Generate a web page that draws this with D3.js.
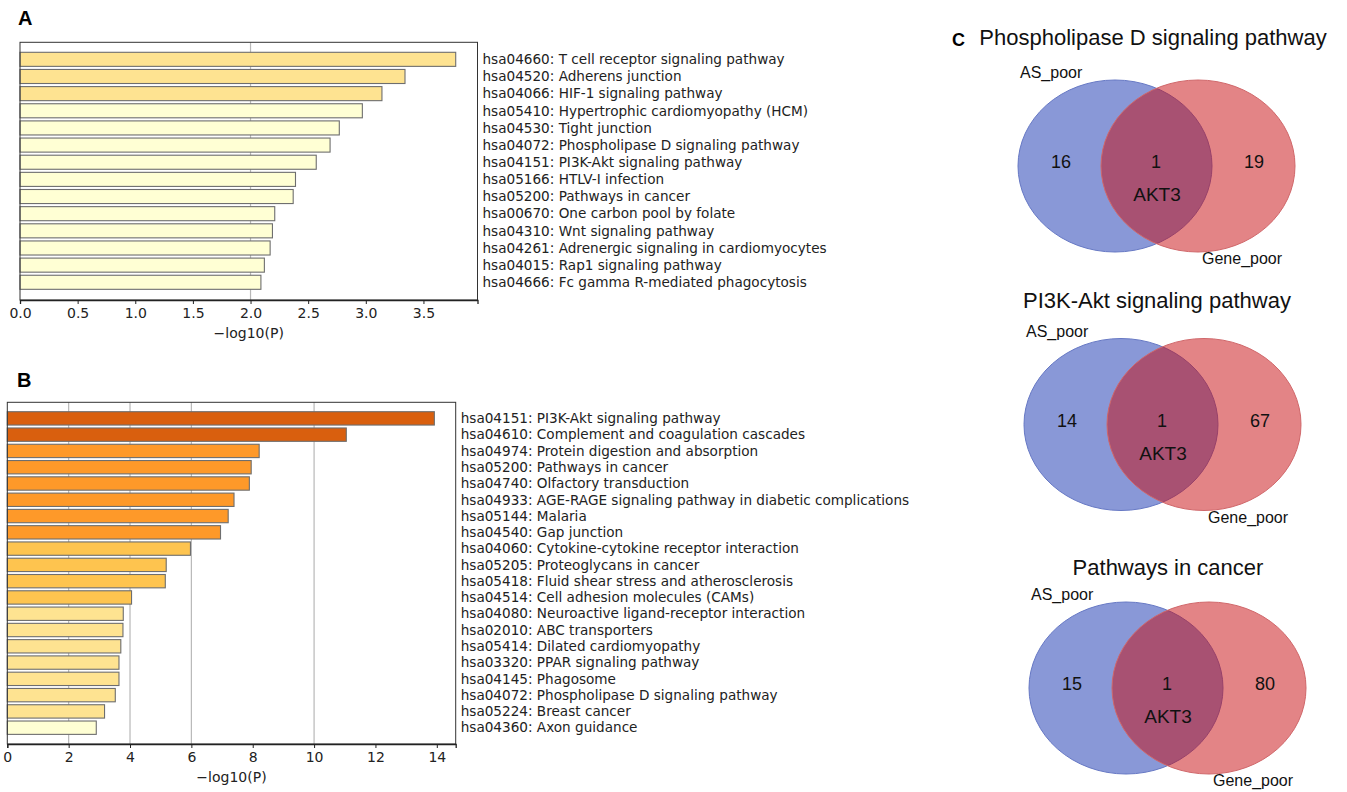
<!DOCTYPE html>
<html>
<head>
<meta charset="utf-8">
<script src="https://cdn.jsdelivr.net/npm/d3@7"></script>
<style>
  body { margin: 0; background: #fff; }
  svg { display: block; }
</style>
</head>
<body>
<svg id="fig"></svg>
<script>
// ---- data ----
const termsA = [
  "hsa04660: T cell receptor signaling pathway",
  "hsa04520: Adherens junction",
  "hsa04066: HIF-1 signaling pathway",
  "hsa05410: Hypertrophic cardiomyopathy (HCM)",
  "hsa04530: Tight junction",
  "hsa04072: Phospholipase D signaling pathway",
  "hsa04151: PI3K-Akt signaling pathway",
  "hsa05166: HTLV-I infection",
  "hsa05200: Pathways in cancer",
  "hsa00670: One carbon pool by folate",
  "hsa04310: Wnt signaling pathway",
  "hsa04261: Adrenergic signaling in cardiomyocytes",
  "hsa04015: Rap1 signaling pathway",
  "hsa04666: Fc gamma R-mediated phagocytosis"
];
const valuesA = [3.78, 3.34, 3.14, 2.97, 2.77, 2.69, 2.57, 2.39, 2.37, 2.21, 2.19, 2.17, 2.12, 2.09];
const ticksA = [0, 0.5, 1.0, 1.5, 2.0, 2.5, 3.0, 3.5];
const gridA = [2];

const termsB = [
  "hsa04151: PI3K-Akt signaling pathway",
  "hsa04610: Complement and coagulation cascades",
  "hsa04974: Protein digestion and absorption",
  "hsa05200: Pathways in cancer",
  "hsa04740: Olfactory transduction",
  "hsa04933: AGE-RAGE signaling pathway in diabetic complications",
  "hsa05144: Malaria",
  "hsa04540: Gap junction",
  "hsa04060: Cytokine-cytokine receptor interaction",
  "hsa05205: Proteoglycans in cancer",
  "hsa05418: Fluid shear stress and atherosclerosis",
  "hsa04514: Cell adhesion molecules (CAMs)",
  "hsa04080: Neuroactive ligand-receptor interaction",
  "hsa02010: ABC transporters",
  "hsa05414: Dilated cardiomyopathy",
  "hsa03320: PPAR signaling pathway",
  "hsa04145: Phagosome",
  "hsa04072: Phospholipase D signaling pathway",
  "hsa05224: Breast cancer",
  "hsa04360: Axon guidance"
];
const valuesB = [13.92, 11.05, 8.21, 7.95, 7.89, 7.39, 7.20, 6.95, 5.97, 5.18, 5.15, 4.05,
                 3.78, 3.77, 3.70, 3.64, 3.64, 3.52, 3.17, 2.90];
const ticksB = [0, 2, 4, 6, 8, 10, 12, 14];
const gridB = [2, 4, 6, 10];

// colour bins on -log10(P)
const binCuts = [3, 4, 6.5, 10];
const binColors = ["#ffffd4", "#fee391", "#fec44f", "#fe9929", "#d95f0e"];

// venn panels
const vennTitles = ["Phospholipase D signaling pathway", "PI3K-Akt signaling pathway", "Pathways in cancer"];
const vennAsOnly = [16, 14, 15];
const vennGeneOnly = [19, 67, 80];
const vennShared = [1, 1, 1];
const vennSharedGene = ["AKT3", "AKT3", "AKT3"];
const vennSets = ["AS_poor", "Gene_poor"];

// ---- drawing ----
const W = 1347, H = 792;
const svg = d3.select("#fig").attr("width", W).attr("height", H);
const tickFont = "'DejaVu Sans', Verdana, sans-serif";
const arial = "'Liberation Sans', Arial, sans-serif";
const colorOf = d3.scaleThreshold().domain(binCuts).range(binColors);

function barPanel(opt) {
  const g = svg.append("g");
  const x = d3.scaleLinear().domain([0, d3.max(opt.values) * 1.05]).range([opt.left, opt.right]);
  const n = opt.terms.length;
  const y = d3.scaleBand()
    .domain(d3.range(n))
    .range([opt.barTop - opt.step * 0.09, opt.barTop - opt.step * 0.09 + opt.step * n])
    .paddingInner(0.18)
    .paddingOuter(0.09);

  // grid lines
  g.append("g").selectAll("line")
    .data(opt.grid)
    .enter().append("line")
    .attr("x1", d => x(d)).attr("x2", d => x(d))
    .attr("y1", opt.top).attr("y2", opt.bottom)
    .attr("stroke", "#b8b8b8").attr("stroke-width", 1.2);

  g.append("g").selectAll("rect")
    .data(opt.values)
    .enter().append("rect")
    .attr("x", x(0))
    .attr("y", (d, i) => y(i))
    .attr("width", d => x(d) - x(0))
    .attr("height", y.bandwidth())
    .attr("fill", d => colorOf(d))
    .attr("stroke", "#6e6e6e")
    .attr("stroke-width", 1.1);

  // frame
  g.append("rect")
    .attr("x", opt.left).attr("y", opt.top)
    .attr("width", opt.right - opt.left).attr("height", opt.bottom - opt.top)
    .attr("fill", "none").attr("stroke", "#333").attr("stroke-width", 1);

  const ax = g.append("g")
    .attr("transform", "translate(0," + opt.bottom + ")")
    .call(d3.axisBottom(x).tickValues(opt.ticks).tickFormat(d3.format(opt.fmt)).tickSize(4).tickPadding(4));
  ax.select(".domain").attr("stroke", "#222").attr("stroke-width", 1.3);
  ax.selectAll(".tick line").attr("stroke", "#222");
  ax.selectAll("text").attr("font-family", tickFont).attr("font-size", 14).attr("fill", "#222");

  g.append("text")
    .attr("x", (opt.left + opt.right) / 2)
    .attr("y", opt.bottom + 38)
    .attr("text-anchor", "middle")
    .attr("font-family", tickFont).attr("font-size", 14).attr("fill", "#222")
    .text("\u2212log10(P)");

  g.append("g").selectAll("text")
    .data(opt.terms)
    .enter().append("text")
    .attr("x", opt.right + 5)
    .attr("y", (d, i) => y(i) + y.bandwidth() / 2)
    .attr("dy", "0.35em")
    .attr("font-family", tickFont).attr("font-size", 13.6).attr("fill", "#222")
    .text(d => d);

  svg.append("text")
    .attr("x", opt.letterX).attr("y", opt.letterY)
    .attr("font-family", arial).attr("font-weight", "bold").attr("font-size", 20)
    .text(opt.letter);
}

barPanel({
  terms: termsA, values: valuesA, ticks: ticksA, grid: gridA, fmt: ".1f",
  left: 20, right: 477.5, top: 42.3, bottom: 300, barTop: 52.3, step: 17.15,
  letter: "A", letterX: 18, letterY: 25
});
barPanel({
  terms: termsB, values: valuesB, ticks: ticksB, grid: gridB, fmt: "d",
  left: 7.3, right: 455.7, top: 402.3, bottom: 744, barTop: 411.7, step: 16.28,
  letter: "B", letterX: 17, letterY: 387
});

// venn diagrams
const vennY = d3.scaleOrdinal().domain(d3.range(3)).range([166, 424.5, 688]);
const vennX = d3.scaleOrdinal().domain(d3.range(3)).range([1115, 1121, 1126]);
const titleY = [45, 308, 575];
const titleX = [1153, 1157, 1168];
const rx = 97, ry = 86, dx = 83;

vennTitles.forEach((t, i) => {
  const cx = vennX(i), cy = vennY(i);
  const g = svg.append("g");
  g.append("text")
    .attr("x", titleX[i]).attr("y", titleY[i])
    .attr("text-anchor", "middle")
    .attr("font-family", arial).attr("font-size", 22).attr("fill", "#111")
    .text(t);
  g.append("ellipse")
    .attr("cx", cx).attr("cy", cy).attr("rx", rx).attr("ry", ry)
    .attr("fill", "rgb(20,50,175)").attr("fill-opacity", 0.5)
    .attr("stroke", "#6678c4").attr("stroke-width", 1);
  g.append("ellipse")
    .attr("cx", cx + dx).attr("cy", cy).attr("rx", rx).attr("ry", ry)
    .attr("fill", "rgb(200,10,14)").attr("fill-opacity", 0.5)
    .attr("stroke", "#d0676a").attr("stroke-width", 1);

  const num = (tx, ty, s, size, anchor) => g.append("text")
    .attr("x", tx).attr("y", ty)
    .attr("text-anchor", anchor || "middle")
    .attr("font-family", arial).attr("font-size", size).attr("fill", "#111")
    .text(s);
  num(cx - 54, cy + 2, vennAsOnly[i], 18);
  num(cx + 41, cy + 2, vennShared[i], 18);
  num(cx + 139, cy + 2, vennGeneOnly[i], 18);
  num(cx + 42, cy + 35, vennSharedGene[i], 19);
  num(cx - 95, cy - 88, vennSets[0], 16, "start");
  num(cx + 87, cy + 98, vennSets[1], 16, "start");
});

svg.append("text")
  .attr("x", 952).attr("y", 46)
  .attr("font-family", arial).attr("font-weight", "bold").attr("font-size", 18)
  .text("C");
</script>
</body>
</html>
